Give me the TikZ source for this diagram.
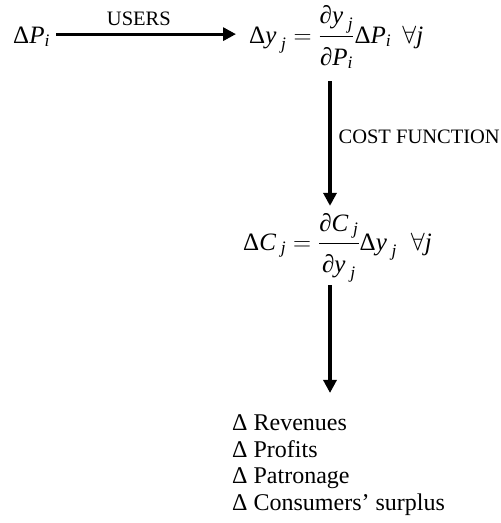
\RequirePackage{fix-cm}
\documentclass[tikz,border=0pt]{standalone}
\usepackage{amsmath}
\usepackage{fontspec}
\setmainfont{Liberation Serif}
\usetikzlibrary{arrows.meta}
\newcommand\D{\text{Δ}}
\newcommand\pd{\text{∂}}
\newcommand\I[1]{\text{\itshape #1}}
\newcommand\Num[1]{\raisebox{2pt}{$\displaystyle #1$}}
\newcommand\Den[1]{\raisebox{-5pt}{$\displaystyle #1$}}
\begin{document}
\begin{tikzpicture}[x=1pt,y=-1pt,
  arr/.style={line width=3.2pt,-{Triangle[length=13pt,width=13pt]}},
  mathtxt/.style={inner sep=0pt,anchor=base west,font=\fontsize{25}{30}\selectfont},
  lbl/.style={inner sep=0pt,font=\fontsize{20.5}{24}\selectfont},
  res/.style={inner sep=0pt,anchor=base west,font=\fontsize{24}{28}\selectfont}]
\useasboundingbox (0,0) rectangle (501,523);
\node[mathtxt] (dP) at (13,43) {$\D\I{P}_{\I{i}}$};
\node[mathtxt] (f1) at (249,43) {$\displaystyle \D\I{y}_{\;\I{j}} = \frac{\Num{\pd\I{y}_{\;\I{j}}}}{\Den{\pd\I{P}_{\I{i}}}}\D\I{P}_{\I{i}}\;\,\forall\I{j}$};
\node[mathtxt] (f2) at (243,250) {$\displaystyle \D\I{C}_{\;\I{j}} = \frac{\Num{\pd\I{C}_{\;\I{j}}}}{\Den{\pd\I{y}_{\;\I{j}}}}\D\I{y}_{\;\I{j}}\;\;\forall\I{j}$};
\node[res] (r1) at (232,430) {Δ Revenues};
\node[res] (r2) at (232,457) {Δ Profits};
\node[res] (r3) at (232,483) {Δ Patronage};
\node[res] (r4) at (232,510) {Δ Consumers’ surplus};
\coordinate (col) at (330,0);
\coordinate (hs) at ([xshift=6pt,yshift=2.5pt]dP.east);
\draw[arr] (hs) -- ([xshift=-13pt]f1.west |- hs)
  node[lbl,pos=0.46,above=7pt] {USERS};
\draw[arr] ([yshift=-12pt]f1.south -| col) -- ([yshift=7pt]f2.north -| col)
  node[lbl,pos=0.45,anchor=west,xshift=7pt] {COST FUNCTION};
\draw[arr] ([yshift=-3pt]f2.south -| col) -- ([yshift=21pt]r1.north -| col);
\end{tikzpicture}
\end{document}
